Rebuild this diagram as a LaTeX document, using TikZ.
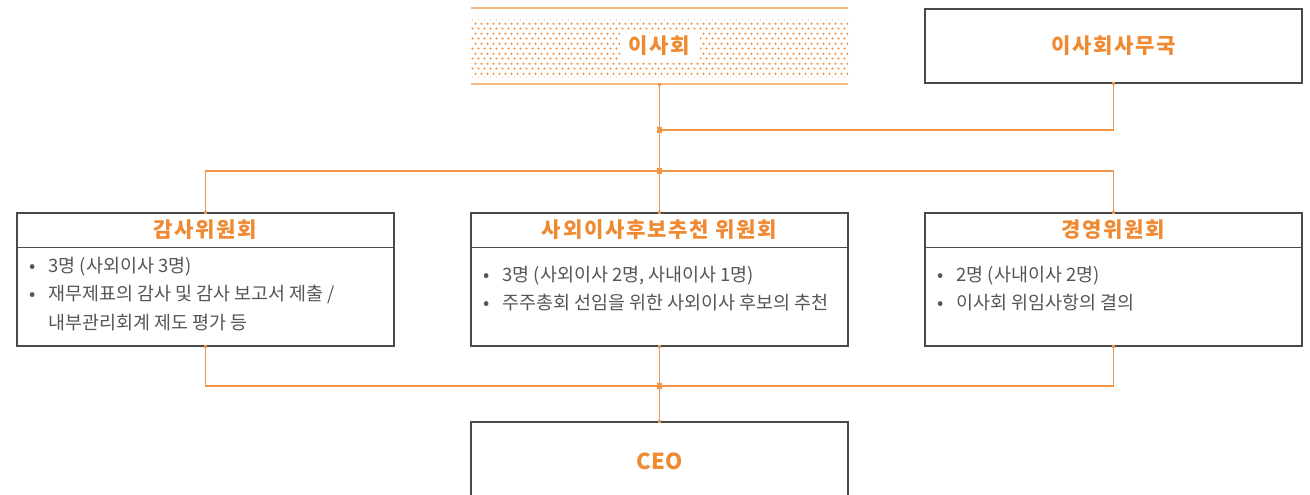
\documentclass[tikz,border=0pt]{standalone}
\usepackage{fontspec}
\setmainfont{Noto Sans CJK KR}
\newfontfamily\headfont[LetterSpace=8]{Noto Sans CJK KR}
\usetikzlibrary{positioning,patterns.meta}

\definecolor{boardorange}{HTML}{F08A32}
\definecolor{linkorange}{HTML}{F4964A}
\definecolor{boxgray}{HTML}{4A4A4A}
\definecolor{textgray}{HTML}{555555}

\tikzdeclarepattern{name=boarddots, type=uncolored, bottom left={(0pt,0pt)}, top right={(3.4pt,5.6pt)}, tile size={(3.4pt,5.6pt)}, code={
  \fill (0.85pt,1.4pt) circle (0.65pt);
  \fill (2.55pt,4.2pt) circle (0.65pt);
}}

\begin{document}
\begin{tikzpicture}[x=0.02cm, y=-0.02cm, title/.style={font=\headfont\bfseries\fontsize{12}{14}\selectfont, text=boardorange, inner sep=0pt}, cbox/.style={draw=boxgray, line width=0.7pt, minimum width=7.54cm, minimum height=2.66cm, inner sep=0pt}, topbox/.style={draw=boxgray, line width=0.7pt, minimum width=7.54cm, minimum height=1.48cm, inner sep=0pt}, bodytext/.style={font=\fontsize{10.5}{16.4}\selectfont, text=textgray, anchor=base west, inner sep=0pt}, link/.style={draw=linkorange, line width=0.6pt}, knot/.style={fill=linkorange, inner sep=0pt, minimum size=3pt}]

\useasboundingbox (0,0) rectangle (1310,494);

% top row
\node[minimum width=7.54cm, minimum height=1.52cm, inner sep=0pt] (board) at (659.5,46) {};
\fill[pattern={boarddots}, pattern color=boardorange] ([yshift=-0.24cm]board.north west) rectangle ([yshift=0.14cm]board.south east);
\draw[boardorange!60, line width=1.2pt] (board.north west) -- (board.north east) (board.south west) -- (board.south east);
\node[title, fill=white, minimum width=1.6cm, minimum height=0.54cm] (boardlabel) at (board.center) {이사회};
\node[topbox] (office) at (1113.5,46) {};
\node[title] at (office.center) {이사회사무국};

% committees
\node[cbox] (audit) at (205.5,279.5) {};
\node[cbox] (nominate) at (659.5,279.5) {};
\node[cbox] (manage) at (1113.5,279.5) {};
\foreach \c/\t in {audit/감사위원회, nominate/사외이사후보추천 위원회, manage/경영위원회}{
  \draw[boxgray, line width=0.7pt] ([yshift=-0.7cm]\c.north west) -- ([yshift=-0.7cm]\c.north east);
  \node[title] at ([yshift=-0.35cm]\c.north) {\t};
}
\node[bodytext] (audittext) at (29,272) {\begin{tabular}[t]{@{}l@{\hspace{0.26cm}}l@{}}
• & 3명 (사외이사 3명)\\
• & 재무제표의 감사 및 감사 보고서 제출 /\\
 & 내부관리회계 제도 평가 등
\end{tabular}};
\node[bodytext] (nominatetext) at (483,281) {\begin{tabular}[t]{@{}l@{\hspace{0.26cm}}l@{}}
• & 3명 (사외이사 2명, 사내이사 1명)\\
• & 주주총회 선임을 위한 사외이사 후보의 추천
\end{tabular}};
\node[bodytext] (managetext) at (937,281) {\begin{tabular}[t]{@{}l@{\hspace{0.26cm}}l@{}}
• & 2명 (사내이사 2명)\\
• & 이사회 위임사항의 결의
\end{tabular}};

% CEO
\node[draw=boxgray, line width=0.7pt, minimum width=7.54cm, minimum height=1.56cm, inner sep=0pt] (ceo) at (659.5,461) {};
\node[title, font=\bfseries\fontsize{12.5}{14}\selectfont] at (ceo.center) {CEO};

% connectors
\coordinate (upjoin) at (659.5,130);
\coordinate (split) at (659.5,171);
\coordinate (merge) at (659.5,386);
\draw[link] (board.south) -- (split);
\draw[link] (office.south) |- (upjoin);
\draw[link] (audit.north) |- (split) -| (manage.north);
\draw[link] (nominate.north) -- (split);
\draw[link] (audit.south) |- (merge) -| (manage.south);
\draw[link] (nominate.south) -- (ceo.north);
\foreach \k in {upjoin, split, merge}
  \node[knot] at (\k) {};
\foreach \k in {board.south, office.south, audit.north, nominate.north, manage.north, audit.south, nominate.south, manage.south, ceo.north}
  \node[knot, minimum size=2pt] at (\k) {};
\end{tikzpicture}
\end{document}
